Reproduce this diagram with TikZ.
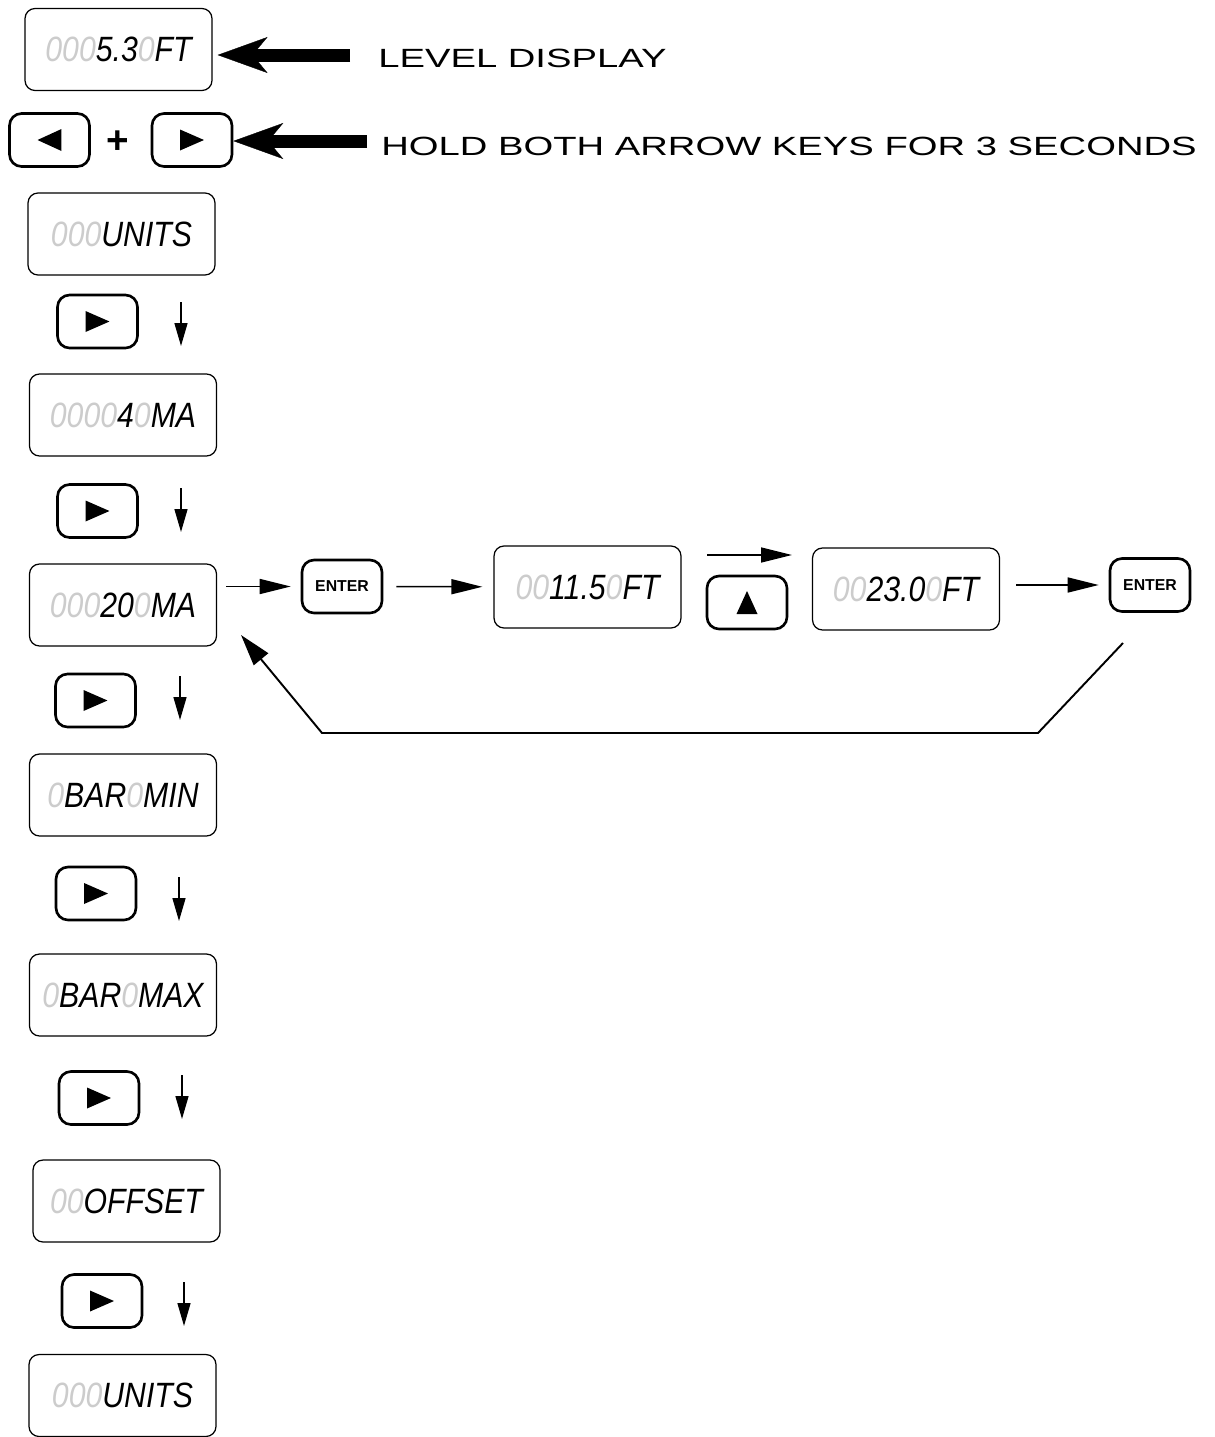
\documentclass[tikz,border=0pt]{standalone}
\usepackage{fontspec}
\usetikzlibrary{arrows.meta}
\newfontfamily\lcdfont[FakeStretch=0.86]{Liberation Sans}
\newfontfamily\bannerfont[FakeStretch=1.45]{Liberation Sans}
\newfontfamily\keyfont{Liberation Sans}
\definecolor{segoff}{gray}{0.8}
\newcommand{\segoff}[1]{{\color{segoff}#1}}

\tikzset{
  display/.style={draw, line width=0.7pt, rounded corners=0.2cm,
    minimum width=3.74cm, minimum height=1.64cm, inner sep=0pt,
    font=\lcdfont\itshape\fontsize{20}{20}\selectfont},
  key/.style={draw, line width=1.5pt, rounded corners=0.24cm,
    minimum width=1.6cm, minimum height=1.06cm, inner sep=0pt},
  rightkey/.style={key, path picture={\fill[sharp corners] ([xshift=-0.24cm,yshift=-0.21cm]path picture bounding box.center)
    -- ++(0.48cm,0.21cm) -- ++(-0.48cm,0.21cm) -- cycle;}},
  leftkey/.style={key, path picture={\fill[sharp corners] ([xshift=0.24cm,yshift=-0.22cm]path picture bounding box.center)
    -- ++(-0.48cm,0.22cm) -- ++(0.48cm,0.22cm) -- cycle;}},
  upkey/.style={key, path picture={\fill[sharp corners] ([xshift=-0.21cm,yshift=-0.23cm]path picture bounding box.center)
    -- ++(0.42cm,0cm) -- ++(-0.21cm,0.46cm) -- cycle;}},
  enterkey/.style={key, font=\keyfont\bfseries\fontsize{9}{9}\selectfont},
  banner/.style={anchor=west, inner sep=0pt, font=\bannerfont\fontsize{15}{16}\selectfont},
  bigarrow/.style={line width=0.26cm, -{Stealth[length=1cm,width=0.72cm,inset=0.3cm,line width=0.2pt]}},
  hor/.style={line width=0.85pt, -{Triangle[length=0.62cm,width=0.3cm]}},
  dn/.style={line width=0.85pt, -{Triangle[length=0.46cm,width=0.26cm]}},
  back/.style={line width=1.1pt, -{Triangle[length=0.63cm,width=0.37cm]}}
}

\begin{document}
\begin{tikzpicture}[x=0.02cm,y=-0.02cm]
\useasboundingbox (0,0) rectangle (1214,1437);

\node[display] (d1) at (118.5,49.5) {\segoff{000}5.3\segoff{0}FT};
\node[banner] (lvl) at (378,58.5) {LEVEL DISPLAY};
\coordinate (lvltail) at (350,55);
\draw[bigarrow, shorten >=0.1cm] (lvltail) -- (d1.east |- lvltail);

\node[leftkey] (keyL) at (49.5,140) {};
\node[font=\keyfont\bfseries\fontsize{22}{22}\selectfont] (plus) at (118,142) {+};
\node[rightkey] (keyR) at (192,140) {};
\node[banner] (hold) at (381,146) {HOLD BOTH ARROW KEYS FOR 3 SECONDS};
\coordinate (holdtail) at (367,141);
\draw[bigarrow] (holdtail) -- (keyR.east |- holdtail);

\node[display] (units) at (121.5,234) {\segoff{000}UNITS};
\node[display] (ma4) at (123,415) {\segoff{0000}4\segoff{0}MA};
\node[display] (ma20) at (123,605) {\segoff{000}20\segoff{0}MA};
\node[display] (barmin) at (123,795) {\segoff{0}BAR\segoff{0}MIN};
\node[display] (barmax) at (123,995) {\segoff{0}BAR\segoff{0}MAX};
\node[display] (offset) at (126.5,1201) {\segoff{00}OFFSET};
\node[display] (units2) at (122.5,1395.5) {\segoff{000}UNITS};

\foreach \n/\kx/\ky/\ax/\ay in {1/97.5/321.5/181/302, 2/97.5/511/181/488,
  3/95.5/700.5/180/676, 4/96/893.5/179/877, 5/99/1098/182/1075, 6/102/1301/184/1282}
{
  \node[rightkey] (next\n) at (\kx,\ky) {};
  \coordinate (dtop\n) at (\ax,\ay);
  \coordinate (dbot\n) at (\ax,\ay+44);
  \draw[dn] (dtop\n) -- (dbot\n);
}

\node[enterkey] (enter1) at (342,586.5) {ENTER};
\node[display] (ft115) at (587.5,587) {\segoff{00}11.5\segoff{0}FT};
\node[upkey] (keyU) at (747,602.5) {};
\node[display] (ft230) at (906,589) {\segoff{00}23.0\segoff{0}FT};
\node[enterkey] (enter2) at (1150,585) {ENTER};

\draw[hor, shorten <=0.18cm, shorten >=0.2cm] (ma20.east |- enter1) -- (enter1.west);
\draw[hor, shorten <=0.26cm, shorten >=0.22cm] (enter1) -- (ft115);
\coordinate (uptail) at (707,555);
\coordinate (uphead) at (792,555);
\draw[hor] (uptail) -- (uphead);
\draw[hor, shorten <=0.32cm, shorten >=0.2cm] (ft230.east |- enter2) -- (enter2.west);

\coordinate (ra) at (1123,643);
\coordinate (rb) at (1038,733);
\coordinate (rc) at (322,733);
\coordinate (rd) at (241,635);
\draw[back] (ra) -- (rb) -- (rc) -- (rd);

\end{tikzpicture}
\end{document}
